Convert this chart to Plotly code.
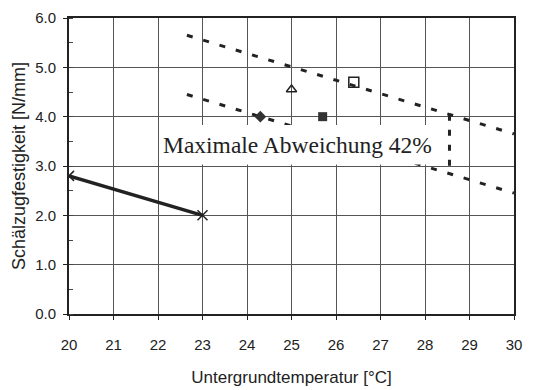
import plotly.graph_objects as go

# Data
line_x = [20, 23]
line_y = [2.8, 2.0]
diamond_x, diamond_y = [24.3], [4.0]
triangle_x, triangle_y = [25.0], [4.55]
fsquare_x, fsquare_y = [25.7], [4.0]
osquare_x, osquare_y = [26.4], [4.7]
upper_x = [22.65, 30.0]
upper_y = [5.65, 3.65]
lower_x = [22.65, 30.0]
lower_y = [4.45, 2.45]
vert_x = [28.55, 28.55]
vert_y = [4.04, 2.84]
label_text = "Maximale Abweichung 42%"

fig = go.Figure()
fig.add_trace(go.Scatter(x=upper_x, y=upper_y, mode="lines",
                         line=dict(color="#222", width=3, dash="6px,11px")))
fig.add_trace(go.Scatter(x=lower_x, y=lower_y, mode="lines",
                         line=dict(color="#222", width=3, dash="6px,11px")))
fig.add_trace(go.Scatter(x=vert_x, y=vert_y, mode="lines",
                         line=dict(color="#222", width=3, dash="6px,9px")))
fig.add_trace(go.Scatter(x=line_x, y=line_y, mode="lines+markers",
                         line=dict(color="#222", width=3.5),
                         marker=dict(symbol="x-thin", size=10, line=dict(color="#222", width=1.5))))
fig.add_trace(go.Scatter(x=diamond_x, y=diamond_y, mode="markers",
                         marker=dict(symbol="diamond", size=9, color="#333")))
fig.add_trace(go.Scatter(x=triangle_x, y=triangle_y, mode="markers",
                         marker=dict(symbol="triangle-up-open", size=9, color="#222", line=dict(width=1.5))))
fig.add_trace(go.Scatter(x=fsquare_x, y=fsquare_y, mode="markers",
                         marker=dict(symbol="square", size=9, color="#333")))
fig.add_trace(go.Scatter(x=osquare_x, y=osquare_y, mode="markers",
                         marker=dict(symbol="square-open", size=10, color="#222", line=dict(width=1.5))))

# white label box
fig.add_shape(type="rect", xref="x", yref="y", x0=22.05, x1=28.35, y0=3.03, y1=3.83,
              fillcolor="white", line=dict(width=0), layer="above")
fig.add_annotation(x=22.07, y=3.43, xref="x", yref="y", text=label_text,
                   showarrow=False, xanchor="left",
                   font=dict(family="Liberation Serif, Times New Roman, serif", size=23.5, color="#222"))

fig.update_layout(
    width=536, height=390,
    margin=dict(l=69, r=22, t=18, b=76),
    paper_bgcolor="white", plot_bgcolor="white",
    showlegend=False,
    font=dict(family="Liberation Sans, Arial, sans-serif", color="#222"),
)
fig.update_xaxes(range=[20, 30], dtick=1, tick0=20, automargin=False,
                 showgrid=True, gridcolor="#555", gridwidth=1,
                 showline=True, linecolor="#222", linewidth=2, mirror=True,
                 ticks="outside", ticklen=4, tickcolor="#222",
                 ticklabelstandoff=12,
                 tickfont=dict(size=15), zeroline=False,
                 title=dict(text="Untergrundtemperatur [°C]", font=dict(size=17), standoff=19))
fig.update_yaxes(range=[0, 6], dtick=1, tick0=0, tickformat=".1f", automargin=False,
                 showgrid=True, gridcolor="#555", gridwidth=1,
                 showline=True, linecolor="#222", linewidth=2, mirror=True,
                 ticks="outside", ticklen=4, tickcolor="#222",
                 ticklabelstandoff=4,
                 minor=dict(dtick=0.5, ticks="inside", ticklen=4, tickcolor="#444", showgrid=False),
                 tickfont=dict(size=15), zeroline=False,
                 title=dict(text="Schälzugfestigkeit [N/mm]", font=dict(size=18), standoff=5))

fig.write_html("out.html")
